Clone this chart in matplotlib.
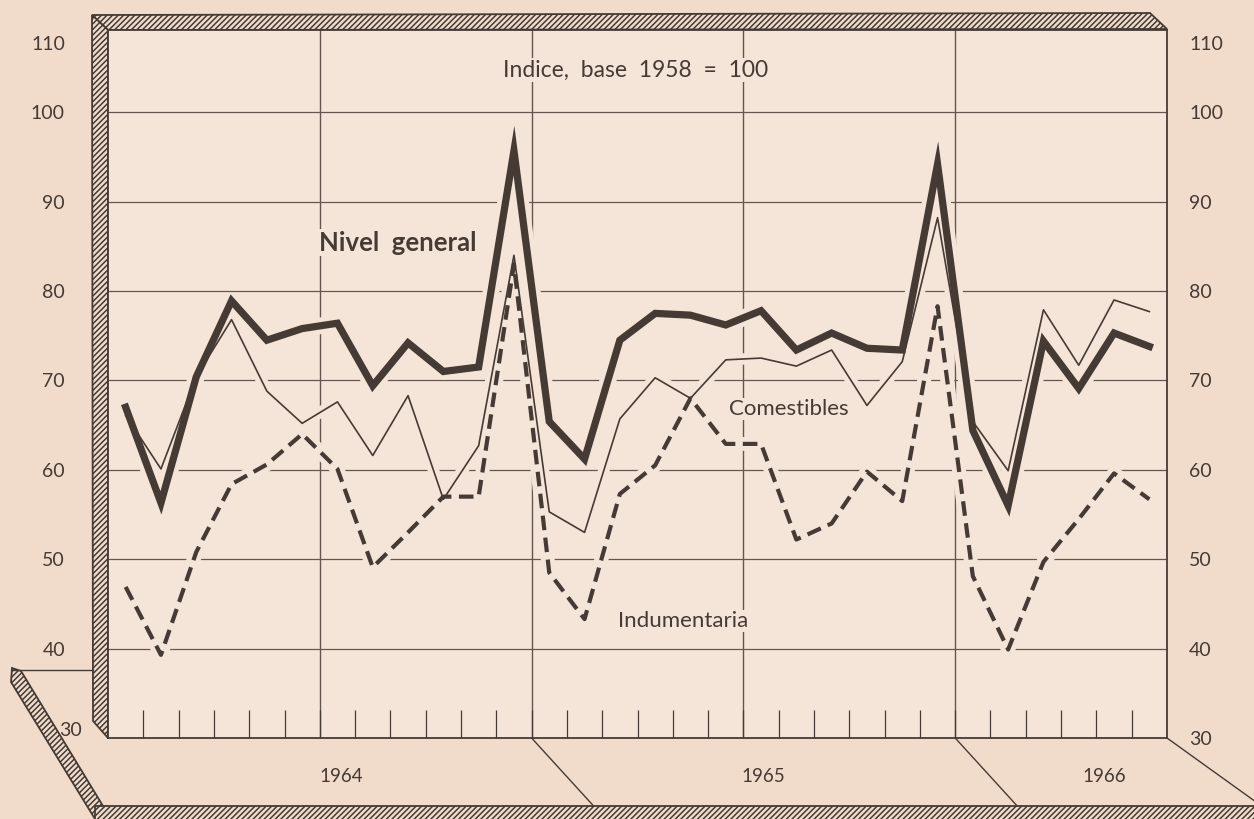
import numpy as np
import matplotlib
matplotlib.use('Agg')
import matplotlib.pyplot as plt
from matplotlib.patches import Polygon

plt.rcParams['font.family'] = ['Lato', 'DejaVu Sans']
plt.rcParams['hatch.linewidth'] = 1.1

# indices mensuales, enero 1964 a junio 1966 (base 1958 = 100)
nivel_general = [67.0, 56.3, 70.4, 78.9, 74.5, 75.8, 76.4, 69.4, 74.2, 71.0, 71.5, 95.7,
                 65.4, 61.2, 74.5, 77.5, 77.3, 76.2, 77.8, 73.4, 75.3, 73.6, 73.4, 94.2,
                 64.4, 56.0, 74.4, 69.1, 75.3, 73.8]
comestibles = [66.1, 60.1, 70.4, 76.8, 68.8, 65.2, 67.6, 61.6, 68.3, 56.7, 62.7, 84.0,
               55.3, 53.0, 65.7, 70.3, 68.0, 72.3, 72.5, 71.6, 73.4, 67.2, 72.1, 88.2,
               65.4, 59.9, 77.9, 71.7, 79.0, 77.7]
indumentaria = [46.9, 39.3, 50.8, 58.4, 60.6, 64.0, 60.1, 49.1, 53.0, 57.0, 57.0, 83.0,
                48.5, 43.3, 57.3, 60.5, 68.0, 62.9, 62.9, 52.2, 54.0, 59.8, 56.5, 78.3,
                48.1, 39.9, 49.7, 54.5, 59.6, 56.7]
anios = ['1964', '1965', '1966']
yticks = [30, 40, 50, 60, 70, 80, 90, 100]

meses = np.arange(len(nivel_general)) + 0.5

bg = '#f1dccb'
bg_in = '#f5e5d8'
ink = '#463a34'
grid_c = '#64564e'

W, H = 1254, 819
fig = plt.figure(figsize=(W / 100, H / 100), dpi=100, facecolor=bg)

# capa de decoracion en pixeles (marco con rayado y piso)
deco = fig.add_axes([0, 0, 1, 1], zorder=0)
deco.set_xlim(0, W)
deco.set_ylim(H, 0)
deco.axis('off')

L, R, T, B = 108, 1167, 30, 738
ax = fig.add_axes([L / W, 1 - B / H, (R - L) / W, (B - T) / H], zorder=1)
ax.set_facecolor(bg_in)
ax.set_xlim(0, 30)
ax.set_ylim(30, 109.2)

# grilla
for v in yticks[1:]:
    ax.axhline(v, color=grid_c, lw=0.9, zorder=1)
for m in [6, 12, 18, 24]:
    ax.axvline(m, color=grid_c, lw=1.0, zorder=1)

# halos que cortan la grilla
for serie, lw in [(nivel_general, 5), (comestibles, 1.2), (indumentaria, 3)]:
    ax.plot(meses, serie, color=bg_in, lw=lw + 7, solid_capstyle='butt',
            solid_joinstyle='round', zorder=2)

ax.plot(meses, indumentaria, color=ink, lw=3, dashes=(3.5, 1.8), zorder=3)
ax.plot(meses, comestibles, color=ink, lw=1.2, zorder=4)
ax.plot(meses, nivel_general, color=ink, lw=5.2, solid_joinstyle='miter', zorder=5)

lbl = dict(facecolor=bg_in, edgecolor='none', pad=1)
ax.text(8.2, 85.4, 'Nivel  general', fontsize=18.5, fontweight='bold', color=ink,
        ha='center', va='center', bbox=lbl, zorder=6)
ax.text(14.95, 104.7, 'Indice,  base  1958  =  100', fontsize=16.5,
        color=ink, ha='center', va='center', bbox=lbl, zorder=6)
ax.text(19.3, 66.8, 'Comestibles', fontsize=16, color=ink,
        ha='center', va='center', bbox=lbl, zorder=6)
ax.text(16.3, 43.1, 'Indumentaria', fontsize=16, color=ink,
        ha='center', va='center', bbox=lbl, zorder=6)

# ejes
ax.set_xticks([])
ax.set_xticks(np.arange(1, 30), minor=True)
ax.tick_params(axis='x', which='minor', direction='in', length=20, width=0.9,
               color=ink, bottom=True, top=False)
ypos = yticks + [107.8]
ylab = [str(v) for v in yticks] + ['110']
ax.set_yticks(ypos)
ax.set_yticklabels([''] + ylab[1:])
ax.tick_params(axis='y', length=0, pad=31, labelsize=14, labelcolor=ink)
for s in ax.spines.values():
    s.set_color(ink)
    s.set_linewidth(1.3)

ax2 = ax.twinx()
ax2.set_ylim(ax.get_ylim())
ax2.set_yticks(ypos)
ax2.set_yticklabels(ylab)
ax2.tick_params(axis='y', length=0, pad=16, labelsize=14, labelcolor=ink)
for s in ax2.spines.values():
    s.set_visible(False)

# marco rayado
hatch_kw = dict(facecolor='#efdccc', edgecolor=ink, hatch='//////', lw=1.3)
deco.add_patch(Polygon([(92, 15), (1150, 13), (1167, 29), (L, T)], **hatch_kw))
deco.add_patch(Polygon([(92, 15), (L, T), (L, B), (93, 721)], **hatch_kw))
deco.add_patch(Polygon([(12, 668), (21, 671), (103, 806), (95, 819), (11, 682)], **hatch_kw))
deco.add_patch(Polygon([(95, 806), (W + 5, 806), (W + 5, H + 5), (95, H + 5)], **hatch_kw))
deco.plot([12, 93], [670, 670], color=ink, lw=1.0)
deco.text(70, 731, ylab[0], fontsize=14, color=ink, ha='center', va='center')

# piso: divisiones de anios inclinadas
for m in [12, 24]:
    px = ax.transData.transform((m, 30))[0]
    deco.plot([px, px + 62], [B, 806], color=ink, lw=1.0)
deco.plot([R, W + 2], [B, 802], color=ink, lw=1.0)
for txt, px in zip(anios, [341, 763, 1104]):
    deco.text(px, 776, txt, fontsize=13.5, color=ink, ha='center', va='center')

fig.savefig('out.png', dpi=100, facecolor=bg)
